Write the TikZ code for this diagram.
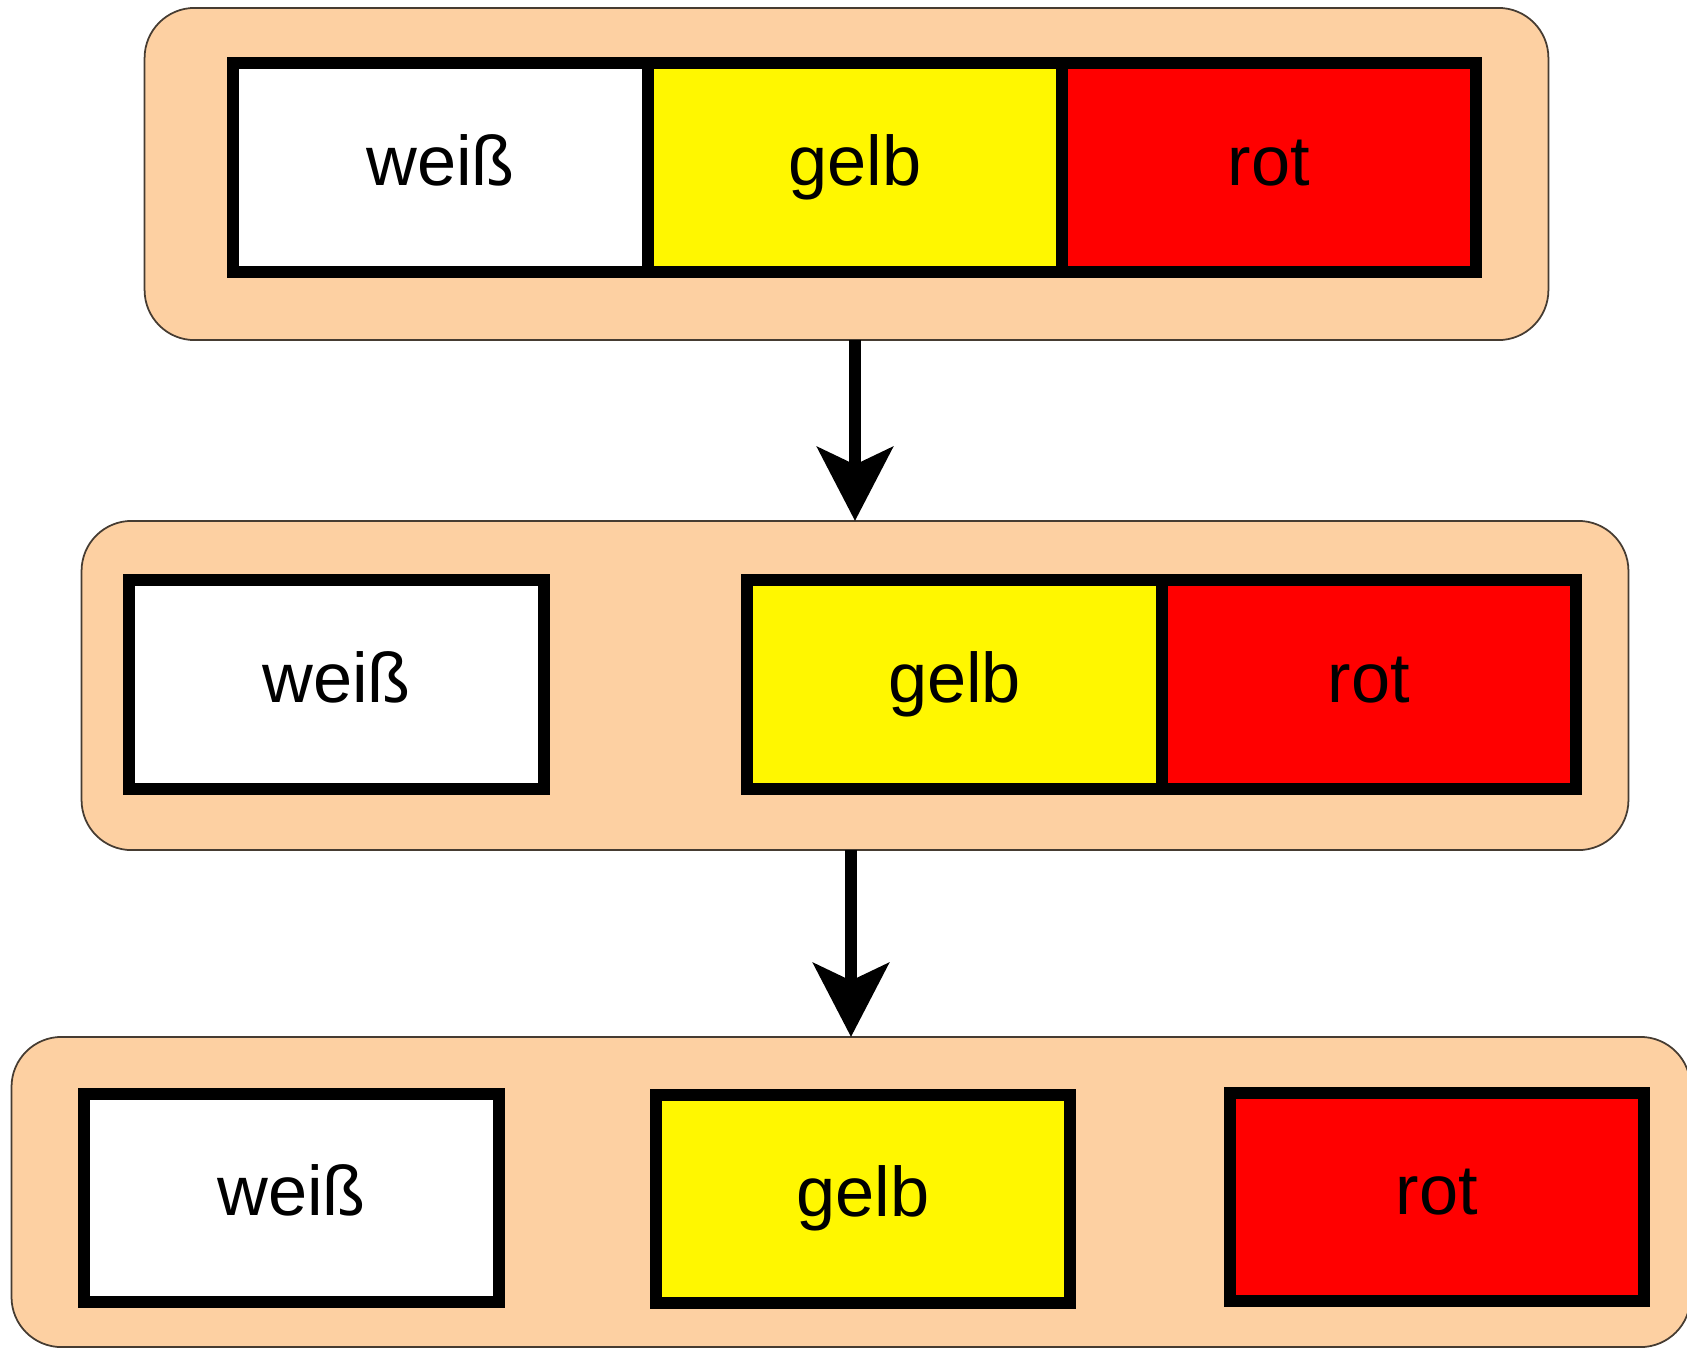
\documentclass[tikz,border=0pt]{standalone}
\usepackage{fontspec}
\setmainfont{Liberation Sans}
\usetikzlibrary{positioning,arrows.meta}
\definecolor{peach}{RGB}{253,208,162}
\definecolor{yellowfill}{RGB}{255,247,0}
\definecolor{redfill}{RGB}{255,0,0}
\definecolor{trim}{RGB}{70,60,50}

\begin{document}
\begin{tikzpicture}[x=0.01cm, y=-0.01cm, node distance=0pt, every node/.style={font=\fontsize{20}{24}\selectfont}]
    \tikzstyle{container} = [rectangle, rounded corners=0.5cm, draw=trim, line width=0.5pt, fill=peach, inner sep=0pt, outer sep=0pt]
    \tikzstyle{field} = [rectangle, draw=black, line width=3.4pt, minimum width=4.14cm, minimum height=2.08cm, inner sep=0pt, outer sep=0pt, text height=1.17em, text depth=0.15em]
    \tikzstyle{flow} = [line width=3.2pt, -{Stealth[length=21pt, width=21.5pt, inset=5pt]}]

    \useasboundingbox (0,0) rectangle (1687,1348);

    % Containers
    \node [container, minimum width=14.03cm, minimum height=3.32cm] (stage1) at (846.5,174) {};
    \node [container, minimum width=15.46cm, minimum height=3.29cm] (stage2) at (855,685.5) {};
    \node [container, minimum width=16.78cm, minimum height=3.10cm] (stage3) at (851,1192) {};

    % All three together
    \node [field, fill=white] (white1) at (440.5,167.5) {weiß};
    \node [field, fill=yellowfill, right=of white1] (yellow1) {gelb};
    \node [field, fill=redfill, right=of yellow1] (red1) {rot};

    % White split off
    \node [field, fill=white] (white2) at (336.5,684.5) {weiß};
    \node [field, fill=yellowfill] (yellow2) at (954.5,684.5) {gelb};
    \node [field, fill=redfill, right=of yellow2] (red2) {rot};

    % All three apart
    \node [field, fill=white] (white3) at (291.5,1198) {weiß};
    \node [field, fill=yellowfill] (yellow3) at (863,1199) {gelb};
    \node [field, fill=redfill] (red3) at (1437,1197) {rot};

    % Connections
    \draw [flow] (stage2.north |- stage1.south) -- (stage2.north);
    \draw [flow] (stage3.north |- stage2.south) -- (stage3.north);
\end{tikzpicture}
\end{document}
